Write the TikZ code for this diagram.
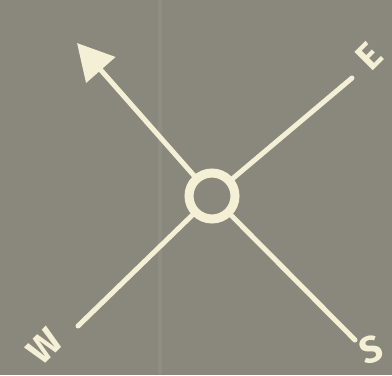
\documentclass[tikz,border=0pt]{standalone}
\usepackage{fontspec}
\setmainfont{Fira Sans}
\usetikzlibrary{arrows.meta}

\definecolor{board}{HTML}{8A877C}
\definecolor{chalk}{HTML}{F3F0D6}
\definecolor{fold}{HTML}{9A978C}

\begin{document}
\begin{tikzpicture}[
    x=0.3mm, y=-0.3mm,
    every node/.style={font=\fontsize{32}{34}\selectfont\bfseries, text=chalk, inner sep=0pt},
    hub/.style={
        circle,
        draw=chalk,
        line width=2.7mm,
        minimum size=13.8mm,
        inner sep=0pt
    },
    ray/.style={draw=chalk, line width=1.5mm, line cap=round},
    pointer/.style={ray, -{Triangle[length=10.8mm, width=11.4mm]}}
]

% Background board with the fold mark
\fill[board] (0,0) rectangle (392,375);
\useasboundingbox (0,0) rectangle (392,375);
\draw[fold, line width=1mm, opacity=0.4] (160,0) -- (160,375);

% Centre ring and line ends
\node[hub] (centre) at (212,196) {};
\coordinate (northwest) at (77,43);
\coordinate (eastend)   at (352,78);
\coordinate (westend)   at (78,326);
\coordinate (southend)  at (355,340);

% Labels
\node[rotate=45] (elabel) at (369,56)  {E};
\node[rotate=45] (wlabel) at (45,346)  {W};
\node[rotate=20] (slabel) at (371,350) {S};

% Rays
\draw[pointer] (centre) -- (northwest);
\draw[ray] (centre) -- (eastend);
\draw[ray] (centre) -- (westend);
\draw[ray] (centre) -- (southend);

\end{tikzpicture}
\end{document}
